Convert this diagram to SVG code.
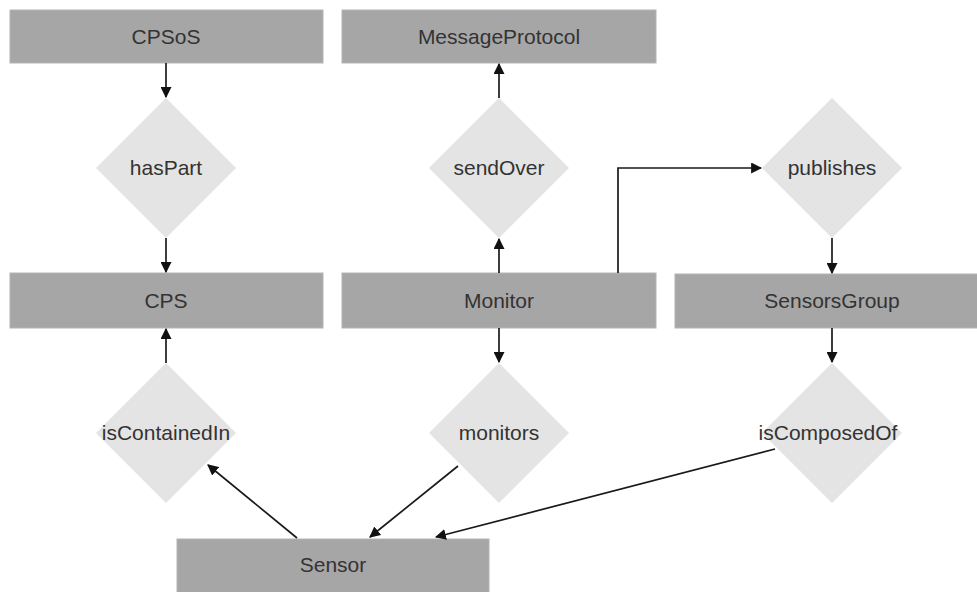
<svg xmlns="http://www.w3.org/2000/svg" width="977" height="592" viewBox="0 0 977 592">
<defs>
<marker id="ah" viewBox="0 0 10 10" refX="9" refY="5" markerWidth="11" markerHeight="11" markerUnits="userSpaceOnUse" orient="auto">
<path d="M0,0 L10,5 L0,10 Z" fill="#111"/>
</marker>
<style>
.ent{fill:#a6a6a6;stroke:#b4b4b4;stroke-width:1}
.rel{fill:#e4e4e4;stroke:none}
.lbl{font-family:"Liberation Sans",Arial,sans-serif;font-size:21px;fill:#333;text-anchor:middle}
.con{stroke:#1a1a1a;stroke-width:1.7;fill:none;marker-end:url(#ah)}
</style>
</defs>
<rect width="977" height="592" fill="#fff"/>
<g id="CPSoS"><rect class="ent" x="10" y="10" width="313" height="53"/><text class="lbl" x="166" y="44">CPSoS</text></g>
<g id="MessageProtocol"><rect class="ent" x="342" y="10" width="314" height="53"/><text class="lbl" x="499" y="44">MessageProtocol</text></g>
<g id="hasPart"><polygon class="rel" points="166,98 236,168 166,238 96,168"/><text class="lbl" x="166" y="175">hasPart</text></g>
<g id="sendOver"><polygon class="rel" points="499,98 569,168 499,238 429,168"/><text class="lbl" x="499" y="175">sendOver</text></g>
<g id="publishes"><polygon class="rel" points="832,98 902,168 832,238 762,168"/><text class="lbl" x="832" y="175">publishes</text></g>
<g id="CPS"><rect class="ent" x="10" y="273" width="313" height="55"/><text class="lbl" x="166" y="308">CPS</text></g>
<g id="Monitor"><rect class="ent" x="342" y="273" width="314" height="55"/><text class="lbl" x="499" y="308">Monitor</text></g>
<g id="SensorsGroup"><rect class="ent" x="675" y="274" width="310" height="54"/><text class="lbl" x="832" y="308">SensorsGroup</text></g>
<g id="isContainedIn"><polygon class="rel" points="166,363 236,433 166,503 96,433"/><text class="lbl" x="166" y="440">isContainedIn</text></g>
<g id="monitors"><polygon class="rel" points="499,363 569,433 499,503 429,433"/><text class="lbl" x="499" y="440">monitors</text></g>
<g id="isComposedOf"><polygon class="rel" points="832,363 902,433 832,503 762,433"/><text class="lbl" x="828" y="440">isComposedOf</text></g>
<g id="Sensor"><rect class="ent" x="177" y="539" width="312" height="56"/><text class="lbl" x="333" y="572">Sensor</text></g>
<g id="connectors">
<line class="con" x1="166" y1="63" x2="166" y2="97"/>
<line class="con" x1="166" y1="238" x2="166" y2="272"/>
<line class="con" x1="166" y1="363" x2="166" y2="329"/>
<line class="con" x1="499" y1="98" x2="499" y2="64"/>
<line class="con" x1="499" y1="273" x2="499" y2="239"/>
<line class="con" x1="499" y1="328" x2="499" y2="362"/>
<polyline class="con" points="618,273 618,168 761,168"/>
<line class="con" x1="832" y1="238" x2="832" y2="273"/>
<line class="con" x1="832" y1="328" x2="832" y2="362"/>
<line class="con" x1="297" y1="538" x2="208" y2="465"/>
<line class="con" x1="458" y1="466" x2="370" y2="537"/>
<line class="con" x1="775" y1="449" x2="436" y2="537"/>
</g>
</svg>
